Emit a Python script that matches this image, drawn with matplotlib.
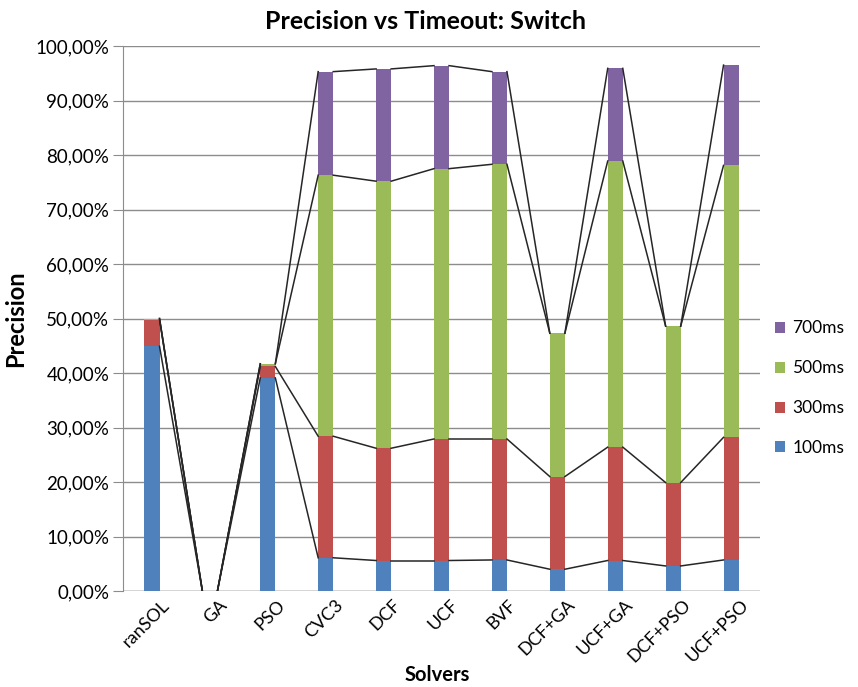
import numpy as np
import matplotlib.pyplot as plt
from matplotlib.ticker import FuncFormatter, MultipleLocator
from matplotlib.transforms import ScaledTranslation

plt.rcParams['font.family'] = ['Lato', 'DejaVu Sans']

solvers = ['ranSOL', 'GA', 'PSO', 'CVC3', 'DCF', 'UCF', 'BVF',
           'DCF+GA', 'UCF+GA', 'DCF+PSO', 'UCF+PSO']

# precision gained per timeout step (percent), stacked in this order
p100 = [44.9, 0, 39.1, 6.1, 5.6, 5.6, 5.7, 4.0, 5.6, 4.6, 5.7]
p300 = [4.9, 0, 2.1, 22.3, 20.6, 22.3, 22.2, 17.0, 20.8, 15.3, 22.5]
p500 = [0.2, 0, 0.5, 47.9, 49.0, 49.6, 50.4, 26.3, 52.5, 28.7, 49.9]
p700 = [0, 0, 0, 19.0, 20.6, 18.9, 17.0, 0, 17.0, 0, 18.4]

series = [('100ms', p100, '#4F81BD'),
          ('300ms', p300, '#C0504D'),
          ('500ms', p500, '#9BBB59'),
          ('700ms', p700, '#8064A2')]

fig = plt.figure(figsize=(8.58, 6.87), dpi=100)
ax = fig.add_axes([0.1434, 0.1397, 0.7424, 0.7933])

x = np.arange(len(solvers))
w = 0.26
bottom = np.zeros(len(solvers))
handles = []
for name, vals, col in series:
    vals = np.array(vals) / 100.0
    h = ax.bar(x, vals, w, bottom=bottom, color=col, label=name, zorder=3)
    handles.append(h)
    bottom = bottom + vals
    # series lines joining the top of each segment to the next bar
    for i in range(len(solvers) - 1):
        ax.plot([x[i] + w / 2, x[i + 1] - w / 2], [bottom[i], bottom[i + 1]],
                color='#262626', lw=1.1, zorder=4)

ax.set_xlim(-0.5, len(solvers) - 0.5)
ax.set_ylim(0, 1.0)
ax.yaxis.set_major_locator(MultipleLocator(0.1))
ax.yaxis.set_major_formatter(FuncFormatter(lambda v, p: f'{v * 100:.2f}%'.replace('.', ',')))
ax.grid(axis='y', color='#8c8c8c', lw=1.0, zorder=0)

for s in ['top', 'right', 'bottom']:
    ax.spines[s].set_visible(False)
ax.spines['left'].set_color('#8c8c8c')
ax.axhline(0, color='#8c8c8c', lw=1.0, zorder=2)

ax.set_xticks(x)
ax.set_xticklabels(solvers, rotation=45, ha='right', rotation_mode='anchor', fontsize=13)
ax.tick_params(axis='x', length=0, pad=4)
# nudge the slanted labels so they end just right of each bar
shift = ScaledTranslation(9 / 100, 0 / 100, fig.dpi_scale_trans)
for lab in ax.get_xticklabels():
    lab.set_transform(lab.get_transform() + shift)
ax.tick_params(axis='y', length=7, color='#8c8c8c', labelsize=13.5, pad=3)

fig.suptitle('Precision vs Timeout: Switch', x=0.496, y=0.985, fontsize=18, fontweight='bold')
fig.text(0.51, 0.018, 'Solvers', ha='center', va='center', fontsize=14.5, fontweight='bold')
ax.set_ylabel('Precision', fontsize=17, fontweight='bold', labelpad=6)

fig.legend(handles[::-1], [s[0] for s in series][::-1],
           loc='center left', bbox_to_anchor=(0.885, 0.435),
           frameon=False, fontsize=12.5, handlelength=0.6, handleheight=0.6,
           handletextpad=0.4, labelspacing=1.38)

fig.savefig('out.png', dpi=100)
